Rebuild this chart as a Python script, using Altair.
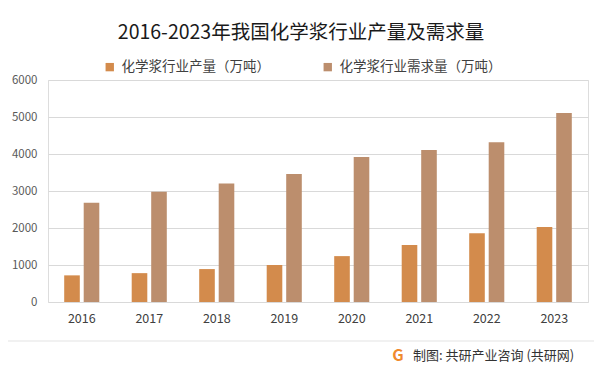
import altair as alt
import pandas as pd

years = ["2016", "2017", "2018", "2019", "2020", "2021", "2022", "2023"]
production = [720, 780, 890, 1000, 1240, 1540, 1860, 2030]
demand = [2680, 2980, 3200, 3460, 3920, 4110, 4320, 5110]
series_names = ["化学浆行业产量（万吨）", "化学浆行业需求量（万吨）"]
colors = ["#D38B4C", "#BC8E6D"]
title_text = ["2016-2023年我国化学浆行业产量及需求量"]
footer_text = ["制图: 共研产业咨询 (共研网)"]
y_ticks = [0, 1000, 2000, 3000, 4000, 5000, 6000]

FONT = "Noto Sans CJK SC"

rows = []
for i, yr in enumerate(years):
    rows.append({"year": yr, "series": series_names[0], "value": production[i]})
    rows.append({"year": yr, "series": series_names[1], "value": demand[i]})
df = pd.DataFrame(rows)

W, H = 540, 222

bars = alt.Chart(df).mark_bar().encode(
    x=alt.X("year:N", sort=years,
            scale=alt.Scale(paddingInner=0.48, paddingOuter=0.24),
            axis=alt.Axis(title=None, labelAngle=0, ticks=False, domain=False,
                          labelFontSize=12.5, labelColor="#404040", labelFont=FONT,
                          labelPadding=10)),
    xOffset=alt.XOffset("series:N", sort=series_names,
                        scale=alt.Scale(paddingInner=0.2, paddingOuter=0)),
    y=alt.Y("value:Q", scale=alt.Scale(domain=[0, 6000], nice=False),
            axis=alt.Axis(title=None, values=y_ticks, format="d", ticks=False, domain=False,
                          labelFontSize=11.5, labelColor="#595959", labelFont=FONT,
                          labelPadding=11, gridColor="#D9D9D9", gridWidth=1)),
    color=alt.Color("series:N", sort=series_names,
                    scale=alt.Scale(domain=series_names, range=colors),
                    legend=alt.Legend(title=None, orient="none", direction="horizontal",
                                      legendX=55, legendY=-20, symbolType="square",
                                      symbolSize=70, symbolStrokeWidth=0,
                                      labelFontSize=13.5, labelFont=FONT, labelColor="#404040",
                                      labelLimit=400, columnPadding=51, labelOffset=5)),
)

title = alt.Chart(pd.DataFrame({"t": title_text})).mark_text(
    fontSize=19.5, font=FONT, color="#1a1a1a", align="center", baseline="middle"
).encode(text="t:N", x=alt.value(253), y=alt.value(-47))

rule = alt.Chart(pd.DataFrame({"a": [0]})).mark_rule(color="#E3E3E3", strokeWidth=1).encode(
    x=alt.value(-40), x2=alt.value(W + 6), y=alt.value(261)
)

logo = alt.Chart(pd.DataFrame({"t": ["G"]})).mark_text(
    fontSize=16, font=FONT, fontWeight="bold", color="#F08A2E", align="center", baseline="middle"
).encode(text="t:N", x=alt.value(350), y=alt.value(276))

footer = alt.Chart(pd.DataFrame({"t": footer_text})).mark_text(
    fontSize=13, font=FONT, color="#333333", align="left", baseline="middle"
).encode(text="t:N", x=alt.value(365), y=alt.value(276))

chart = alt.layer(bars, title, rule, logo, footer).properties(
    width=W, height=H,
    autosize=alt.AutoSizeParams(type="none"),
    padding={"left": 40, "top": 72, "right": 6, "bottom": 63},
).configure_view(stroke=None).configure(background="white")

chart.save("out.html", embed_options={"renderer": "svg", "actions": False})
